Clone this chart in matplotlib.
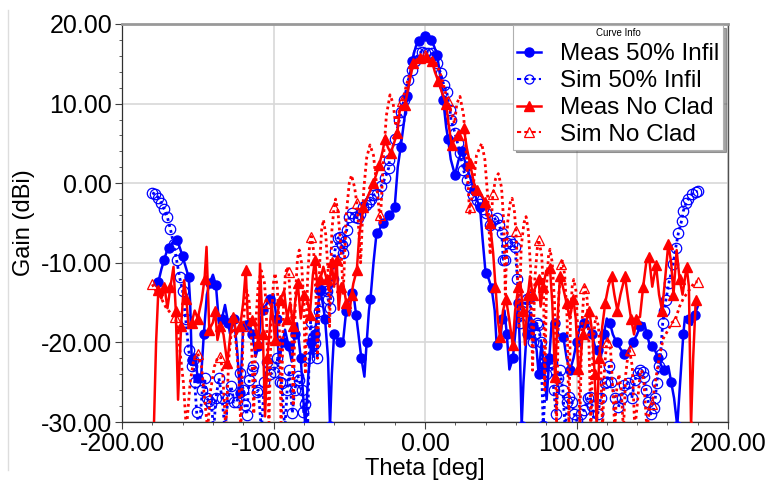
import numpy as np
import matplotlib
matplotlib.use("Agg")
import matplotlib.pyplot as plt
from matplotlib.lines import Line2D

# ---------------- data ----------------
meas50_theta = [-176, -174, -172.3, -170.5, -168.8, -166.5, -164, -162, -160, -158, -156, -155, -154, -152, -150,
                -148, -146, -144, -142, -140, -138, -136, -134, -132, -130, -128.7, -126, -124, -122, -120,
                -118, -116.6, -114, -111.8, -110, -108.5, -106.7, -104, -102, -100, -98, -96.4, -94, -92.4, -90,
                -88, -86, -84.5, -82, -80, -79, -77, -75, -73.7, -72.6, -71, -69.3, -68, -66, -64, -62.7, -61.5,
                -60, -58, -56, -54, -52, -50, -48, -47.3, -45.5, -44, -42, -40, -38.5, -37, -36, -34, -32, -30,
                -28, -26, -23.8, -22, -20, -18, -16, -14, -11.7, -10, -8.6, -6, -4, -2, 0, 2, 4, 6, 8, 10, 12,
                14, 15.2, 17, 19.8, 22, 24.2, 26, 27.5, 30, 32.3, 34, 36.3, 38, 40, 42, 44, 46, 47.3, 49.5, 51,
                52.5, 54, 55.7, 58, 60, 61.6, 62.5, 63.8, 65, 67, 69.3, 71, 73.7, 75, 77, 78.5, 80.3, 82, 83.6,
                86, 88, 91.3, 93.5, 95.7, 98, 100, 102.3, 105, 107.8, 110, 112.2, 114, 116, 118, 120, 122, 124,
                126.5, 128.7, 131.5, 134.2, 137, 139.7, 142, 144.8, 146.5, 148, 150, 151.8, 154, 156.2, 158,
                160.6, 162.5, 164.4, 166.5, 168.8, 170.5, 171.6, 174, 176, 178, 180]
meas50_gain = [-12.4, -10.8, -9.7, -8.6, -8.1, -7.4, -7.1, -8.0, -9.2, -10.5, -11.8, -15, -22.2, -21.5, -24.5,
               -25.0, -19, -14, -12.5, -11.5, -12.8, -17.6, -17, -15.3, -17.5, -18.9, -17, -21, -26.4, -18,
               -17.8, -17.2, -19, -21.8, -20.5, -17, -15.9, -15, -14.5, -14, -17, -22.4, -20, -18.4, -20.5,
               -22.4, -19, -17.6, -22, -28, -30.5, -24, -20, -21.8, -18.9, -16, -13.4, -14.5, -17, -22, -30.5, -24,
               -18.9, -19.5, -20, -19.7, -16, -14.5, -13.8, -13.8, -16.5, -18.9, -22, -24.3, -20, -16, -14.5, -10, -6.3, -5.8,
               -5.0, -4.5, -4.0, -3.8, -3.0, 2, 4.6, 7.5, 11.0, 13.5, 15.4, 17.2, 17.9, 18.3, 18.5, 18.3, 18.0, 17.2, 16.1, 13.5, 10.5,
               7.0, 5.6, 3.0, 1.0, 2.8, 4.0, 3.0, 2.1, 0.6, -0.9, -2, -3, -7, -11.3, -12, -13.2, -16, -20.3, -20.3, -17,
               -16, -19, -23.4, -22, -18, -15.1, -20, -30.5, -25, -19, -16.3, -18, -21, -24, -20, -23, -27.2, -22, -17.6,
               -17.6, -19, -19.3, -22, -23.5, -22, -20, -18, -17.5, -18, -19, -20.5, -21, -22, -19, -17, -17.5, -19,
               -20, -20.7, -21.5, -21, -20, -19.1, -18, -17.6, -19, -20.1, -20.5, -21, -22, -23, -23.5,
               -23, -25, -27, -30.5, -23.9, -19, -16.8, -17, -17.8, -16.5, -15.5]

sim50_theta = [-180, -178, -176, -174, -172, -170, -168, -166, -164, -162, -160, -158, -156, -154, -153, -152,
               -150.7, -149, -147, -145.5, -144, -142.6, -141, -139.5, -138, -136, -134, -132, -130, -128, -126,
               -124, -122, -120, -119, -117.7, -116, -114.5, -113.3, -111, -110, -108, -106, -104, -102, -99.7,
               -97.5, -96, -94.6, -92.5, -91, -89.6, -87.6, -86, -84, -83, -81.5, -80.3, -79, -77.5, -76.5, -75.5,
               -74, -72.6, -71, -70, -69.3, -67.5, -66, -65, -64, -63, -61, -59.5, -57.5, -56, -55, -54, -53,
               -51.7, -50, -48.4, -46, -44, -43, -41, -39, -37, -35.5, -34, -32, -29, -26.4, -24, -23.5, -20, -17,
               -15.8, -13.8, -11, -8.8, -6.5, -4.4, -2, 0, 2, 4.4, 6.2, 8.1, 10.3, 12.5, 14.3, 16.5, 17.2, 19.8,
               21.5, 23.1, 25.3, 27.5, 29.5, 31.9, 34, 36, 38, 40, 42.9, 45, 47.3, 49, 50.6, 51.7, 52.8, 54, 56,
               57.2, 59.4, 61, 62.7, 64, 66, 67.5, 69.3, 71, 72.5, 73.7, 74.8, 76.5, 78, 80, 82.5, 83.6, 85, 86.5,
               88, 89.1, 91, 92.5, 94, 95.2, 97, 98.5, 100, 101.5, 103, 105, 107.5, 108.9, 110.5, 112, 114, 116,
               118.8, 120, 121.5, 123, 125.4, 127.6, 129.8, 131.6, 134.2, 136.5, 138.6, 140.5, 141.9, 143.7,
               144.5, 146, 147.4, 149, 151, 152, 153, 154.2, 155.5, 156.9, 158, 159, 161, 163.9, 165.5, 167.2,
               169.4, 170.5, 172.3, 173.8, 176, 178.7, 180]
sim50_gain = [-1.2, -1.4, -1.8, -2.5, -3.3, -4.3, -5.8, -7.6, -9.6, -11.8, -13.5, -17, -21, -23, -22.2, -25,
              -28.8, -31, -26, -24.5, -27, -27.4, -27.7, -31, -27, -24.5, -27, -31, -27, -25.5, -27.5,
              -27.5, -23.8, -26, -27.9, -29.1, -24.7, -23.5, -23, -26.2, -26, -31, -25, -22.5, -24, -23.7,
              -22, -25, -25.1, -31, -26, -23.5, -28.9, -26, -24.2, -24.7, -26, -28.7, -27.7, -31, -22, -17.4,
              -19.5, -20.1, -22, -16, -13.4, -12.8, -13.2, -13.6, -14.5, -15.7, -12, -8.5, -6.9, -6.7, -7.8, -8.8, -7.2,
              -5.9, -4.2, -3.8, -4.2, -4.4, -3.9, -3.0, -2.8, -2.4, -2.0, -1.5, -1.3, -0.4, 0.6, 1.9, 2.9, 5.5, 7.9,
              9.0, 10.5, 13.0, 14.2, 15.4, 16.3, 16.5, 16.4, 16.4, 16.3, 15.8, 15.1, 13.8, 12.3, 11.5, 9.2, 7.9, 6.3,
              5.0, 3.8, 1.7, 0.4, -0.5, -1.5, -2.1, -2.6, -3.3, -3.7, -5.2, -4.6, -4.4, -5.2, -6.3, -9.6, -9.6, -7.5, -7.3,
              -7.6, -8, -12, -17.6, -16, -15.5, -14.5, -14.3, -20, -19, -17.6, -17.8, -20, -30.5, -24, -22.4, -22.6, -26, -29,
              -24.5, -23.5, -26, -31, -27.5, -26.8, -27.5, -29, -29.7, -31, -29, -28.5, -27, -26.8, -28, -31, -29, -27,
              -25.1, -25, -23, -25, -27, -28.1, -27, -25.4, -25.1, -27, -24.7, -23.8, -23.5, -23.7,
              -24.3, -26, -27.5, -29, -28.3, -27, -25.1, -23, -21.4, -17.6, -16, -14.7, -12.5, -10.1, -8.1, -6.3,
              -4.7, -3.5, -2.5, -2.0, -1.4, -1.1, -1.0]

measnc_theta = [-179, -177.5, -176, -174, -172, -170, -168, -166, -164.5, -163, -161, -159, -157.5, -156, -154,
                -152, -150, -147.4, -145.5, -144.2, -142.4, -140, -138.5, -137, -135, -133, -130.5, -128.5,
                -126.5, -124.5, -122, -120, -118.3, -117, -114.4, -112, -110, -108.9, -107, -105.6, -104,
                -101.2, -99, -97.5, -95.7, -93, -91, -89, -87, -85.8, -84, -82, -80, -78.1, -76, -74, -72.6,
                -71, -69, -67.1, -65, -63.5, -61.6, -60, -58.3, -57, -55.5, -54, -52, -50, -48.5, -47.3, -45,
                -43.3, -40.7, -37.8, -34.1, -32, -30.2, -28, -26.4, -24.5, -22.6, -20.5, -18.3, -16.5, -13.2,
                -10.5, -7.7, -5.5, -3.3, -1.5, 0.7, 2.5, 4.6, 6.5, 8.8, 11, 13.9, 15.5, 17.6, 19.5, 21.6, 23.5,
                25.7, 27.5, 29.7, 32.3, 34.5, 37.4, 39.6, 41, 42.9, 45, 46.5, 48, 49.5, 51.5, 53.5, 55.5, 57.9,
                59.5, 61.6, 63, 64.5, 66, 68, 69.3, 71, 73, 75, 76.3, 78, 80, 82.5, 84, 85.8, 87.5, 89.1, 91,
                93.5, 95.5, 97.9, 99.5, 101.2, 102.3, 104, 106.7, 108.5, 110.5, 112, 113.3, 115, 117, 119, 121,
                123.2, 125, 127, 129, 132, 134, 136, 138, 139.5, 141.9, 144, 146.3, 147.9, 150, 152.5, 154.5,
                156.5, 158.5, 160.6, 162.5, 164, 166.1, 168, 170, 172.7, 174.2, 175.6, 177, 178.7]
measnc_gain = [-31, -20, -13.4, -14.5, -13, -15.7, -13, -10.5, -16, -27.2, -18, -12.2, -14.5, -18.2, -17.5,
               -16, -17, -14.7, -12, -8, -18.4, -17.5, -16, -19.7, -18, -19, -22.6, -19,
               -16.8, -19, -18, -15, -10.9, -17, -17.2, -18, -20.1, -10.1, -19, -29.3, -22,
               -15.1, -19.7, -16.5, -14.7, -13.5, -17, -15, -18, -15.1, -12.5, -17, -14, -14.3, -16.5, -11.5, -9.6,
               -13, -12, -10.5, -12, -13.5, -9.9, -13, -9.6, -15.9, -13, -12.6, -15, -16.6, -14, -12.6, -10.9,
               -6.3, -3.0, -1.7, 0.0, 1.2, 2.3, 4, 5.6, 4.5, 3.8, 5, 6.3, 9.4, 9.8,
               12.5, 15.1, 15.4, 15.7, 15.8, 15.8, 15.6, 15.3, 14, 12.8, 11.5, 10.0, 7.5, 4.8, 5.5, 6.1, 6.5,
               6.9, 4.5, 2.5, 0.0, -0.9, -1.5, -2.3, -4, -5, -8.8, -13, -17, -19.3, -16, -14.5, -17, -20.3,
               -16, -13, -12.5, -16, -20.3, -14, -11.7, -14, -13, -12, -15.5, -13, -11, -10.7, -15, -24.3, -17, -11.7, -13,
               -15.1, -17, -14.5, -17, -23.3, -23.3, -19, -17.2, -16, -19, -24, -30.5, -22, -18, -15, -13,
               -11.7, -14, -16, -14, -11.7, -14.5, -17, -19, -17, -16.8, -13, -9.6, -9.3, -13, -10.3, -14,
               -16, -12, -7.6, -10, -14, -8.4, -12, -14, -10.5, -13, -30.5, -22, -14.7]

simnc_theta = [-180, -177, -174, -171, -168, -165, -163, -161.5, -159.5, -157.5, -155, -152.5, -150, -147.5,
               -145.5, -143.5, -141.5, -139, -137, -135, -133.5, -131.5, -129.5, -128, -126.5, -125, -123,
               -121.5, -120, -118.5, -117.5, -116, -114.5, -113, -111.5, -110, -108, -106, -105, -104.5,
               -103, -101.5, -100, -99, -97.5, -96, -95, -93.5, -92.2, -91, -90, -88, -87, -85.5, -84.2, -83,
               -81.5, -80, -79, -77.5, -76.2, -75, -73.5, -72, -71, -69.5, -68.2, -67, -65.5, -64, -63, -61.5,
               -60, -59, -57.5, -55.5, -54, -52, -50, -48.5, -46.5, -45, -44, -42.5, -40.5, -38.5, -36.3, -34,
               -31.5, -30, -29.5, -27.5, -25.5, -23.1, -21, -19.5, -18, -16, -15, -14, -12, -10, -8, -6, -4, -2,
               0, 2, 4, 6, 8, 10, 12, 14, 15, 16, 18, 19.5, 21, 23.1, 25.5, 27.5, 29.5, 30, 31.5, 34, 37.4,
               39.5, 41.5, 43, 44.5, 45, 46.5, 48.4, 50.5, 52, 53, 54.5, 56.2, 57.5, 59, 60, 60.5, 62, 63.5,
               65.3, 66.7, 68.2, 69.8, 71, 72.5, 74.2, 75, 77, 78.3, 79, 80.2, 81.5, 82.5, 84, 85.5, 86.8,
               88.3, 90, 90.8, 92.2, 93.8, 95, 96, 97.2, 98.2, 99.6, 101, 102.2, 103.5, 105, 105.6, 107,
               108.2, 109.5, 111, 112.2, 113, 114.5, 116, 117.2, 118.5, 120, 121, 122.5, 124, 125.3, 126.5,
               128, 129.5, 131, 132.5, 134, 135, 136.8, 138.5, 140.5, 142, 143, 144.5, 146.5, 148.5, 150,
               152, 154.5, 157.3, 160.6, 163, 165, 168, 170.5, 173, 176, 178, 180]
simnc_gain = [-12.7, -13.8, -14.5, -15.6, -16.3, -16.8, -18.5, -21.5, -25, -31, -25, -22, -21.4, -23,
              -27, -31, -26, -23, -22, -21.8, -24, -31, -22, -19, -18.2, -19.5, -24,
              -31, -18, -14, -13.5, -15, -20, -29, -17, -12.5, -11, -12.5, -15, -18,
              -30.5, -17, -12.5, -11.3, -13, -19, -30.5, -16, -11.5, -10.5, -11.2, -17, -28, -14, -9.5, -8.4,
              -10, -15, -24, -12, -7.8, -6.7, -8.5, -14, -22, -10, -5.8, -4.6, -6.5, -11, -18, -6,
              -3, -2, -3.5, -8, -14, -4, 0.0, 1.0, -0.5, -2.5, -5, -10, -1, 3.2, 4.8, 3.5,
              -1, -4, -5, 3, 8.5, 11.1, 10, 7.5, 8.5, 9.6, 10.3, 11, 12.5, 13.8, 14.8, 15.4, 15.8, 16.0,
              16.1, 16.0, 15.8, 15.4, 14.8, 13.8, 12.5, 11, 10.3, 9.6, 8.5, 7.5, 10, 10.9, 8.5, 3, -4, -3, -1, 3.5, 5,
              3, -2, -9, -2, -1.3, 0.5, 1.2, -0.5, -5, -14, -5, -2.5, -1.9, -3.5, -6, -8, -18, -8,
              -5, -4.2, -6, -11, -23.5, -12, -8, -7.1, -9, -14, -26, -13, -9.2, -8.3, -10, -15, -30.5,
              -14, -10.2, -9.8, -11.5, -17, -30.5, -17, -12.8, -12.1, -13.5, -19, -30.5, -18, -13.2, -13, -14.5,
              -20, -30.5, -20, -17.5, -16.8, -18, -23, -31, -23, -20, -19.5, -21, -26, -31, -26,
              -24, -26, -31, -24, -21.5, -21, -23, -31, -27, -24, -23.5, -25, -31, -28, -27.7,
              -25, -22, -19.5, -18.4, -17.5, -17.3, -15.5, -14.5, -13.8, -13, -12.4, -12.4]

labels = ["Meas 50% Infil", "Sim 50% Infil", "Meas No Clad", "Sim No Clad"]
xticks = [-200, -100, 0, 100, 200]
yticks = [-30, -20, -10, 0, 10, 20]

# ---------------- figure ----------------
plt.rcParams['font.family'] = ['Liberation Sans', 'DejaVu Sans']
fig = plt.figure(figsize=(7.69, 4.80), dpi=100)
ax = fig.add_axes([122/769, 1 - 422/480, (728-122)/769, (422-24)/480])

BLUE = (0, 0, 1)
RED = (1, 0, 0)
dot = (0, (1, 1.2))

ax.plot(meas50_theta, meas50_gain, color=BLUE, lw=1.8, marker='o', ms=6.5, markevery=2, zorder=3)
ax.plot(sim50_theta, sim50_gain, color=BLUE, lw=2.0, ls=dot, marker='o', ms=7.5, mfc='none',
        mec=BLUE, mew=0.9, zorder=3)
ax.plot(measnc_theta, measnc_gain, color=RED, lw=1.8, marker='^', ms=7, markevery=2, zorder=4)
nc_th = np.array(simnc_theta)
mask = (np.mod(nc_th, 15) == 0)
ax.plot(simnc_theta, simnc_gain, color=RED, lw=2.0, ls=dot, marker='^', ms=7.5, mfc='none',
        mec=RED, mew=0.9, markevery=list(mask), zorder=4)

ax.set_xlim(-200, 200)
ax.set_ylim(-30, 20)
ax.set_xticks(xticks)
ax.set_yticks(yticks)
ax.set_xticklabels([f"{v:.2f}" for v in xticks])
ax.set_yticklabels([f"{v:.2f}" for v in yticks])
ax.set_xticks(np.arange(-200, 201, 20), minor=True)
ax.set_yticks(np.arange(-30, 21, 2), minor=True)
ax.tick_params(axis='both', which='major', labelsize=18, length=5, width=0.8, color='#404040', pad=2)
ax.tick_params(axis='both', which='minor', length=2.5, width=0.6, color='#404040')
ax.grid(True, which='major', color='#d8d8d8', lw=1.2)
ax.set_axisbelow(True)

for s in ['left', 'bottom']:
    ax.spines[s].set_color('#303030')
    ax.spines[s].set_linewidth(0.9)
ax.spines['top'].set_color('#999999')
ax.spines['top'].set_linewidth(2.0)
ax.spines['right'].set_color('#505050')
ax.spines['right'].set_linewidth(1.0)

ax.set_xlabel("Theta [deg]", fontsize=17, labelpad=2)
ax.set_ylabel("Gain (dBi)", fontsize=17, labelpad=4)

handles = [
    Line2D([], [], color=BLUE, lw=1.8, marker='o', ms=6.5),
    Line2D([], [], color=BLUE, lw=1.5, ls=(0, (2, 1.5)), marker='o', ms=6.5, mfc='none', mew=0.9),
    Line2D([], [], color=RED, lw=1.8, marker='^', ms=7),
    Line2D([], [], color=RED, lw=1.5, ls=(0, (2, 1.5)), marker='^', ms=6.5, mfc='none', mew=0.9),
]
leg = ax.legend(handles, labels, loc='upper right', bbox_to_anchor=(0.992, 0.998),
                title="Curve Info", title_fontsize=7, fontsize=17.5, frameon=True, fancybox=False,
                shadow=True, edgecolor='#b0b0b0', framealpha=1.0, handlelength=1.0,
                handletextpad=0.8, borderpad=0.15, labelspacing=0.2, borderaxespad=0.0)
leg.get_frame().set_linewidth(0.8)
leg.set_zorder(10)

# HFSS panel border line at the left
fig.add_artist(Line2D([8/769, 8/769], [0.02, 0.98], transform=fig.transFigure, color='#dddddd', lw=1))

fig.savefig("out.png", dpi=100)
